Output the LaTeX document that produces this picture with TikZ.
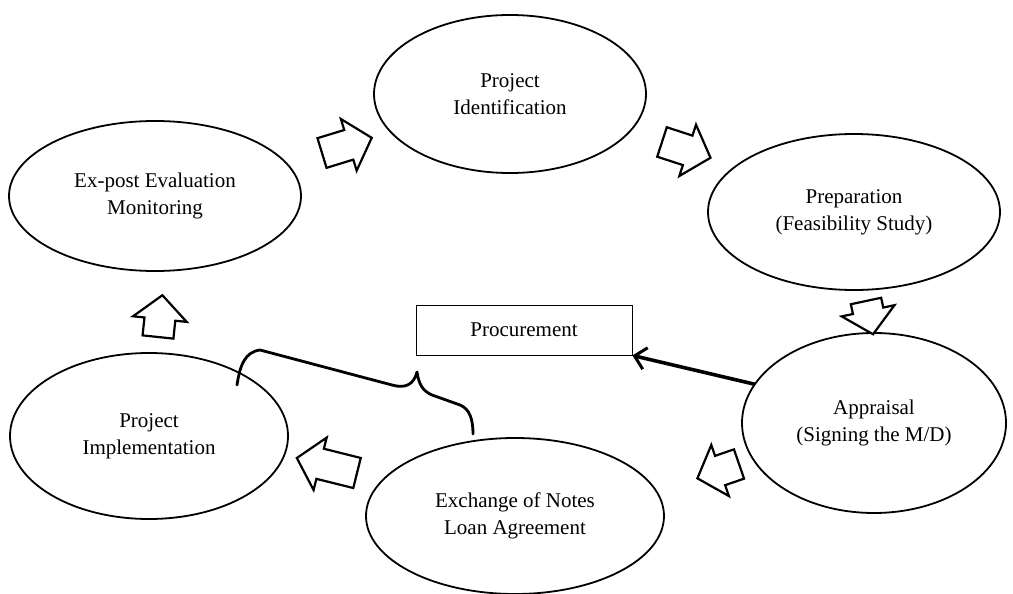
\documentclass[tikz,border=0pt]{standalone}
\usepackage{fontspec}
\setmainfont{Liberation Serif}
\usetikzlibrary{shapes.geometric,arrows.meta}
\begin{document}
\begin{tikzpicture}[x=1pt,y=-1pt,
  stage/.style={draw=black, line width=1.8pt, ellipse, inner sep=0pt, outer sep=0pt,
    align=center, font=\fontsize{21}{27}\selectfont},
  boxstage/.style={draw=black, line width=0.9pt, rectangle, inner sep=0pt,
    minimum width=216pt, minimum height=50pt, font=\fontsize{21}{27}\selectfont},
  bracestroke/.style={line width=2.8pt, line cap=round, line join=round},
  pointer/.style={line width=3.6pt, -{Straight Barb[length=11pt,width=22pt,line width=3pt]}},
  pics/barrow/.style={code={
    \draw[line width=2.2pt, line join=miter, fill=white]
      (0,15.5) -- ({#1-24},15.5) -- ({#1-24},27) -- (#1,0)
      -- ({#1-24},-27) -- ({#1-24},-15.5) -- (0,-15.5) -- cycle;}}
]
\useasboundingbox (0,0) rectangle (1013,594);

% project cycle stages
\node[stage, minimum width=272pt, minimum height=158pt] (ident) at (510,94)
  {Project\\Identification};
\node[stage, minimum width=292pt, minimum height=150pt] (expost) at (155,196)
  {Ex-post Evaluation\\Monitoring};
\node[stage, minimum width=292pt, minimum height=156pt] (prep) at (854,212)
  {Preparation\\(Feasibility Study)};
\node[stage, minimum width=264pt, minimum height=180pt] (apprais) at (874,423)
  {Appraisal\\(Signing the M/D)};
\node[stage, minimum width=298pt, minimum height=156pt] (exch) at (515,516)
  {Exchange of Notes\\Loan Agreement};
\node[stage, minimum width=278pt, minimum height=166pt] (impl) at (149,436)
  {Project\\Implementation};
\node[boxstage] (proc) at (524,330) {Procurement};

% hollow block arrows between consecutive stages
\pic[rotate=17]  at (322,153) {barrow=52};
\pic[rotate=-18] at (662,142) {barrow=51};
\pic[rotate=-78] at (866,301) {barrow=34};
\pic[rotate=199] at (739,464) {barrow=44};
\pic[rotate=166] at (357,473) {barrow=62};
\pic[rotate=84]  at (158,337) {barrow=42};

% procurement link from appraisal
\draw[pointer] (apprais.162) -- (proc.south east);

% brace grouping implementation and loan agreement
\draw[bracestroke] (237,385) .. controls (240,365) and (245,352) .. (260,350)
  -- (392,385) .. controls (406,389) and (414,384) .. (417,372)
  .. controls (419,385) and (423,391) .. (432,395)
  -- (460,405) .. controls (470,409) and (473,420) .. (473,434);
\end{tikzpicture}
\end{document}
